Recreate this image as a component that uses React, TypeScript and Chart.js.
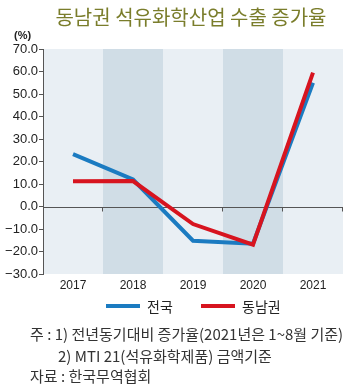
import React, { useEffect, useRef } from "react";
import { Chart, registerables } from "chart.js";
Chart.register(...registerables);

const years = ["2017", "2018", "2019", "2020", "2021"];
const nationalLabel = "전국";
const southeastLabel = "동남권";
const national = [23.3, 12.0, -15.2, -16.5, 55.0];
const southeast = [11.2, 11.3, -7.8, -17.0, 59.5];
const yMin = -30;
const yMax = 70;
const yStep = 10;

const titleText = "동남권 석유화학산업 수출 증가율";
const unitText = "(%)";
const noteLines = [
  "주 : 1) 전년동기대비 증가율(2021년은 1~8월 기준)",
  "2) MTI 21(석유화학제품) 금액기준",
  "자료 : 한국무역협회",
];

const BLUE = "#1b7bc1";
const RED = "#d7141f";
const BAND_LIGHT = "#e9eff4";
const BAND_DARK = "#d0dde6";
const AXIS = "#555555";
const FONT = "'Liberation Sans', Arial, 'Noto Sans CJK KR', sans-serif";
const KFONT = "'Noto Sans CJK KR', 'Liberation Sans', sans-serif";

const bandsPlugin = {
  id: "bands",
  beforeDraw(chart: any) {
    const { ctx, chartArea, scales } = chart;
    const x = scales.x;
    const n = years.length;
    const w = (chartArea.right - chartArea.left) / n;
    ctx.save();
    for (let i = 0; i < n; i++) {
      const c = x.getPixelForValue(i);
      ctx.fillStyle = i % 2 === 0 ? BAND_LIGHT : BAND_DARK;
      ctx.fillRect(c - w / 2, chartArea.top, w, chartArea.bottom - chartArea.top);
    }
    ctx.restore();
  },
  beforeDatasetsDraw(chart: any) {
    const { ctx, chartArea, scales } = chart;
    const y0 = Math.round(scales.y.getPixelForValue(0)) + 0.5;
    const x = scales.x;
    const n = years.length;
    const w = (chartArea.right - chartArea.left) / n;
    ctx.save();
    ctx.strokeStyle = AXIS;
    ctx.lineWidth = 1;
    ctx.beginPath();
    ctx.moveTo(chartArea.left, y0);
    ctx.lineTo(chartArea.right, y0);
    for (let i = 0; i < n; i++) {
      const b = Math.round(x.getPixelForValue(i) + w / 2) - 0.5;
      ctx.moveTo(b, y0);
      ctx.lineTo(b, y0 + 4);
    }
    ctx.stroke();
    ctx.restore();
  },
};

function ChartView() {
  const ref = useRef<HTMLCanvasElement | null>(null);
  useEffect(() => {
    if (!ref.current) return;
    const chart = new Chart(ref.current, {
      type: "line",
      data: {
        labels: years,
        datasets: [
          {
            label: nationalLabel,
            data: national,
            borderColor: BLUE,
            backgroundColor: BLUE,
            borderWidth: 4,
            pointRadius: 0,
            tension: 0,
            order: 1,
          },
          {
            label: southeastLabel,
            data: southeast,
            borderColor: RED,
            backgroundColor: RED,
            borderWidth: 4,
            pointRadius: 0,
            tension: 0,
            order: 0,
          },
        ],
      },
      options: {
        responsive: false,
        animation: false,
        devicePixelRatio: 1,
        layout: { padding: { left: 5, right: 7, top: 49, bottom: 94 } },
        plugins: {
          legend: { display: false },
          tooltip: { enabled: false },
          title: { display: false },
        },
        scales: {
          x: {
            offset: true,
            grid: { display: false, drawTicks: false },
            border: { display: false },
            ticks: {
              padding: 4,
              color: "#222",
              font: { family: FONT, size: 12 },
            },
            afterFit: (s: any) => {
              s.height = 20;
            },
          },
          y: {
            min: yMin,
            max: yMax,
            ticks: {
              stepSize: yStep,
              padding: 1,
              color: "#222",
              font: { family: FONT, size: 13 },
              callback: (v: any) => Number(v).toFixed(1).replace("-", "\u2212"),
            },
            grid: {
              drawOnChartArea: false,
              drawTicks: true,
              tickLength: 4,
              color: AXIS,
            },
            border: { display: true, color: AXIS, width: 1 },
            afterFit: (s: any) => {
              s.width = 38;
            },
          },
        },
      },
      plugins: [bandsPlugin],
    });
    return () => chart.destroy();
  }, []);
  return <canvas ref={ref} width={350} height={388} style={{ position: "absolute", left: 0, top: 0, width: 350, height: 388 }} />;
}

export default function App() {
  const legendItem = (color: string, text: string, left: number) => (
    <div style={{ position: "absolute", left, top: 296, height: 20, display: "flex", alignItems: "center" }}>
      <div style={{ width: 34, height: 4, background: color, marginRight: 7 }} />
      <span style={{ fontFamily: KFONT, fontSize: 14, color: "#222" }}>{text}</span>
    </div>
  );
  const note = (text: string, left: number, top: number) => (
    <div style={{ position: "absolute", left, top, fontFamily: KFONT, fontSize: 15, color: "#333", whiteSpace: "nowrap", lineHeight: "20px" }}>
      {text}
    </div>
  );
  return (
    <div style={{ position: "fixed", left: 0, top: 0, width: 350, height: 388, background: "#fff", overflow: "hidden" }}>
      <ChartView />
      <div
        style={{
          position: "absolute",
          left: 0,
          width: 382,
          top: 2,
          textAlign: "center",
          fontFamily: KFONT,
          fontSize: 20,
          color: "#7a7d2b",
          whiteSpace: "nowrap",
        }}
      >
        {titleText}
      </div>
      <div style={{ position: "absolute", left: 14, top: 29, fontFamily: FONT, fontSize: 11, fontWeight: "bold", color: "#222" }}>
        {unitText}
      </div>
      {legendItem(BLUE, nationalLabel, 106)}
      {legendItem(RED, southeastLabel, 201)}
      {note(noteLines[0], 30, 324)}
      {note(noteLines[1], 58, 346)}
      {note(noteLines[2], 30, 366)}
    </div>
  );
}
